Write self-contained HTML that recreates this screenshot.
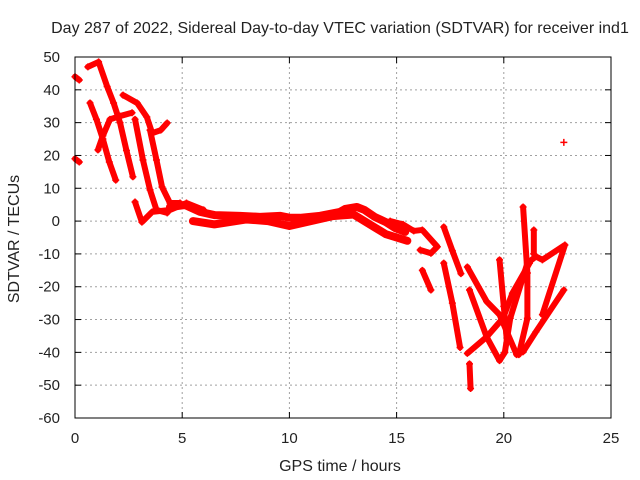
<!DOCTYPE html>
<html><head><meta charset="utf-8"><style>
html,body{margin:0;padding:0;background:#fff;}
svg{display:block;font-family:"Liberation Sans",sans-serif;}
</style></head><body>
<svg id="chart" width="640" height="480" viewBox="0 0 640 480">
<text x="340" y="33" font-size="16" text-anchor="middle" fill="#222">Day 287 of 2022, Sidereal Day-to-day VTEC variation (SDTVAR) for receiver ind1</text>
<g id="grid"></g>
<g id="marks"></g>
<rect x="75" y="57" width="536" height="361" fill="none" stroke="#000" stroke-width="1"/>
<g id="ticks"></g>
<text x="340" y="471" font-size="16" text-anchor="middle" fill="#222">GPS time / hours</text>
<text transform="translate(19,239) rotate(-90)" font-size="16" text-anchor="middle" fill="#222">SDTVAR / TECUs</text>
</svg>
<script>
const xTicks=[0,5,10,15,20,25];
const yTicks=[50,40,30,20,10,0,-10,-20,-30,-40,-50,-60];
const trackHours=[
[0,0.2],
[0,0.2],
[0.6,1.1,1.5,1.8,2.1,2.4,2.7],
[0.7,1.0,1.3,1.6,1.9],
[1.07,1.3,1.63,2.1,2.66],
[2.24,2.9,3.35,3.6,4.0,4.3],
[2.8,3.17,3.5,3.8,4.3],
[3.5,3.8,4.06,4.43,4.9],
[2.8,3.12,3.6,4.43,5.2,6.0],
[4.43,5.13,5.83,6.53,7.7,8.63,9.56,10.03,10.5,11.43,12.36,12.6,13.15,13.5,14.0,14.5,14.93,15.4],
[5.5,6.5,8,9,10,11,12,13,14,14.5,15.5],
[14.7,15.3,15.8,16.2,16.9,16.6,16.1],
[16.2,16.6],
[17.2,17.6,18.0],
[17.2,17.6,17.96],
[18.4,18.45],
[18.3,19.2,19.8,20.6,20.9,21.5,22.8],
[18.4,19.2,19.8,20.05,20.3,21.1,21.5,21.8,22.85,21.8],
[18.3,19.2,19.96,20.4,21.2],
[19.8,20.0,20.15],
[20.9,21.1,21.1,20.7],
[21.4,21.4],
[22.8]
];
const trackValues=[
[44,43],
[19,18],
[47,48.5,41,36,30,21.5,13.5],
[36,31,25,18,12.5],
[21.7,26,31,32,33],
[38.4,36,31.7,26.8,27.7,29.9],
[31,18.6,9.5,3.4,2.5],
[27.7,18.6,10.4,5.5,5.5],
[5.8,-0.3,2.8,3.4,5.5,3.4],
[4.3,4.9,2.8,1.8,1.6,1.3,1.6,1.0,1.0,1.6,2.8,3.7,4.3,3.4,1.2,-0.3,-2.1,-3.3],
[0,-1,0.5,0,-1.5,0,1.5,2,-2,-4,-6],
[0,-1,-3,-2.7,-7.8,-9.8,-8.8],
[-15,-21],
[-1.8,-9,-16],
[-12.8,-25,-38.5],
[-43.5,-51],
[-14,-24.5,-28.5,-40.7,-39.8,-33.7,-21],
[-21,-35.3,-42.5,-40,-29.6,-12.8,-10.8,-11.8,-7.3,-28.5],
[-40.3,-35.3,-29.6,-22,-12.8],
[-11.8,-26,-37],
[4.3,-15.8,-29.6,-40.7],
[-2.7,-10],
[24]
];
const NS='http://www.w3.org/2000/svg';
const X0=75,X1=611,Y0=418,Y1=57,xmin=0,xmax=25,ymin=-60,ymax=50;
function sx(v){return X0+(v-xmin)/(xmax-xmin)*(X1-X0);}
function sy(v){return Y0-(v-ymin)/(ymax-ymin)*(Y0-Y1);}
const grid=document.getElementById('grid'),ticks=document.getElementById('ticks'),marks=document.getElementById('marks');
function mk(tag,attrs,parent){const e=document.createElementNS(NS,tag);for(const k in attrs)e.setAttribute(k,attrs[k]);parent.appendChild(e);return e;}
xTicks.forEach(t=>{
  const x=sx(t);
  if(t>xmin&&t<xmax){const g=mk('line',{x1:x,x2:x,y1:Y1,y2:Y0,stroke:'#a0a0a0','stroke-dasharray':'2,3'},grid);
  
  }
  const l=mk('line',{x1:x,x2:x,y1:Y0,y2:Y0-6,stroke:'#000'},ticks);
  
  
  const l2=mk('line',{x1:x,x2:x,y1:Y1,y2:Y1+6,stroke:'#000'},ticks);
  
  
  const tx=mk('text',{x:x,y:443,'font-size':15,'text-anchor':'middle',fill:'#222'},ticks);tx.textContent=t;
  
  
});
yTicks.forEach(t=>{
  const y=sy(t);
  if(t>ymin&&t<ymax){const g=mk('line',{x1:X0,x2:X1,y1:y,y2:y,stroke:'#a0a0a0','stroke-dasharray':'2,3'},grid);
  
  }
  const l=mk('line',{x1:X0,x2:X0+6,y1:y,y2:y,stroke:'#000'},ticks);
  
  
  const l2=mk('line',{x1:X1,x2:X1-6,y1:y,y2:y,stroke:'#000'},ticks);
  
  
  const tx=mk('text',{x:60,y:y+5,'font-size':15,'text-anchor':'end',fill:'#222'},ticks);tx.textContent=t;
  
  
});
trackHours.forEach((hs,i)=>{
  const vs=trackValues[i];
  const pts=hs.map((h,j)=>sx(h)+','+sy(vs[j])).join(' ');
  if(hs.length>1){const p=mk('polyline',{points:pts,fill:'none',stroke:'#ff0000','stroke-width':(i===9||i===10)?8:6,'stroke-linejoin':'round','stroke-linecap':'round'},marks);
  
  }
  hs.forEach((h,j)=>{
    const x=sx(h),y=sy(vs[j]);
    const m=mk('path',{d:`M${x-3.5},${y}H${x+3.5}M${x},${y-3.5}V${y+3.5}`,stroke:'#ff0000','stroke-width':1.5},marks);
    
    
  });
});
</script>
</body></html>
